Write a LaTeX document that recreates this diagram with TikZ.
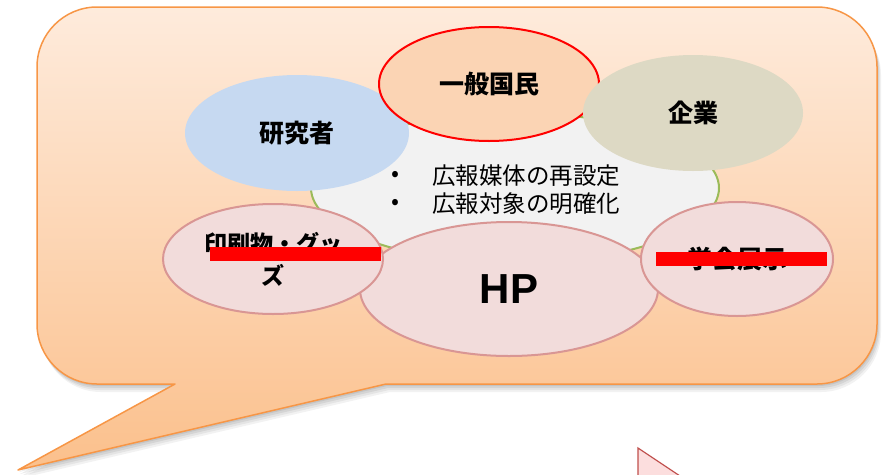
\documentclass[tikz,border=0pt]{standalone}
\usepackage{fontspec}
\setmainfont{Liberation Sans}
\newfontfamily\jp{Noto Sans CJK JP}
\usetikzlibrary{shapes.geometric}
\definecolor{cotop}{HTML}{FEEBDC}
\definecolor{cobot}{HTML}{FBC08C}
\definecolor{coline}{HTML}{F79646}
\definecolor{cgrey}{HTML}{F2F2F2}
\definecolor{cgreen}{HTML}{9BBB59}
\definecolor{cblue}{HTML}{C6D9F1}
\definecolor{cpeach}{HTML}{FBD4B4}
\definecolor{ctan}{HTML}{DDD9C4}
\definecolor{cpink}{HTML}{F2DCDB}
\definecolor{cpinkline}{HTML}{D99694}
\definecolor{ctri}{HTML}{FCDEDE}
\definecolor{ctriline}{HTML}{C0504D}
\newcommand\calloutpath{(175,384) -- (18,470) -- (386,384) -- (817,384) .. controls (850,384) and (877,357) .. (877,324) -- (877,67) .. controls (877,34) and (850,7) .. (817,7) -- (97,7) .. controls (64,7) and (37,34) .. (37,67) -- (37,324) .. controls (37,357) and (64,384) .. (97,384) -- cycle}
\tikzset{
  blob/.style={ellipse, inner sep=0pt, align=center},
  lbl/.style={font=\jp\bfseries\fontsize{25}{32}\selectfont},
  pinkblob/.style={blob, fill=cpink, draw=cpinkline, line width=2pt},
  strike/.style={fill=red, draw=none},
  bodytext/.style={font=\jp\fontsize{23.5}{28}\selectfont, inner sep=0pt}
}
\begin{document}
\begin{tikzpicture}[x=1pt,y=-1pt]
\useasboundingbox (0,0) rectangle (885,474);
% shadow of the callout
\fill[black, opacity=0.07] [shift={(1,2)}] \calloutpath;
\fill[black, opacity=0.07] [shift={(2,4)}] \calloutpath;
\fill[black, opacity=0.06] [shift={(3,6)}] \calloutpath;
\fill[black, opacity=0.05] [shift={(4,8)}] \calloutpath;
% callout
\path[top color=cotop, bottom color=cobot, draw=coline, line width=1.5pt, line join=round] \calloutpath;
% pink triangle at bottom
\path[fill=ctri, draw=ctriline, line width=1.2pt] (638,448) -- (686,480) -- (638,480) -- cycle;
% central ellipse
\node[blob, fill=cgrey, draw=cgreen, line width=2pt, minimum width=408pt, minimum height=150pt] (center) at (515,188) {};
\node[bodytext, anchor=west] (b1) at (391,176) {•};
\node[bodytext, anchor=west] (t1) at (432,176) {広報媒体の再設定};
\node[bodytext, anchor=west] (b2) at (391,204) {•};
\node[bodytext, anchor=west] (t2) at (432,204) {広報対象の明確化};
% top ellipses
\node[blob, fill=cblue, minimum width=224pt, minimum height=116pt, lbl] (kenkyu) at (297,133) {研究者};
\node[blob, fill=cpeach, draw=red, line width=2pt, minimum width=220pt, minimum height=114pt, lbl] (kokumin) at (489,84) {一般国民};
\node[blob, fill=ctan, minimum width=220pt, minimum height=116pt, lbl] (kigyo) at (693,113) {企業};
% bottom ellipses
\node[pinkblob, minimum width=298pt, minimum height=134pt, font=\bfseries\fontsize{42}{48}\selectfont] (hp) at (509,289) {HP};
\node[pinkblob, minimum width=220pt, minimum height=110pt, font=\jp\bfseries\fontsize{23}{32}\selectfont] (insatsu) at (273,259) {印刷物・グッ\\ズ};
\node[pinkblob, minimum width=192pt, minimum height=114pt, lbl] (gakkai) at (737,259) {学会展示};
% red strike bars
\path[strike] (210,247) rectangle (381,261);
\path[strike] (656,252) rectangle (827,266);
\end{tikzpicture}
\end{document}
